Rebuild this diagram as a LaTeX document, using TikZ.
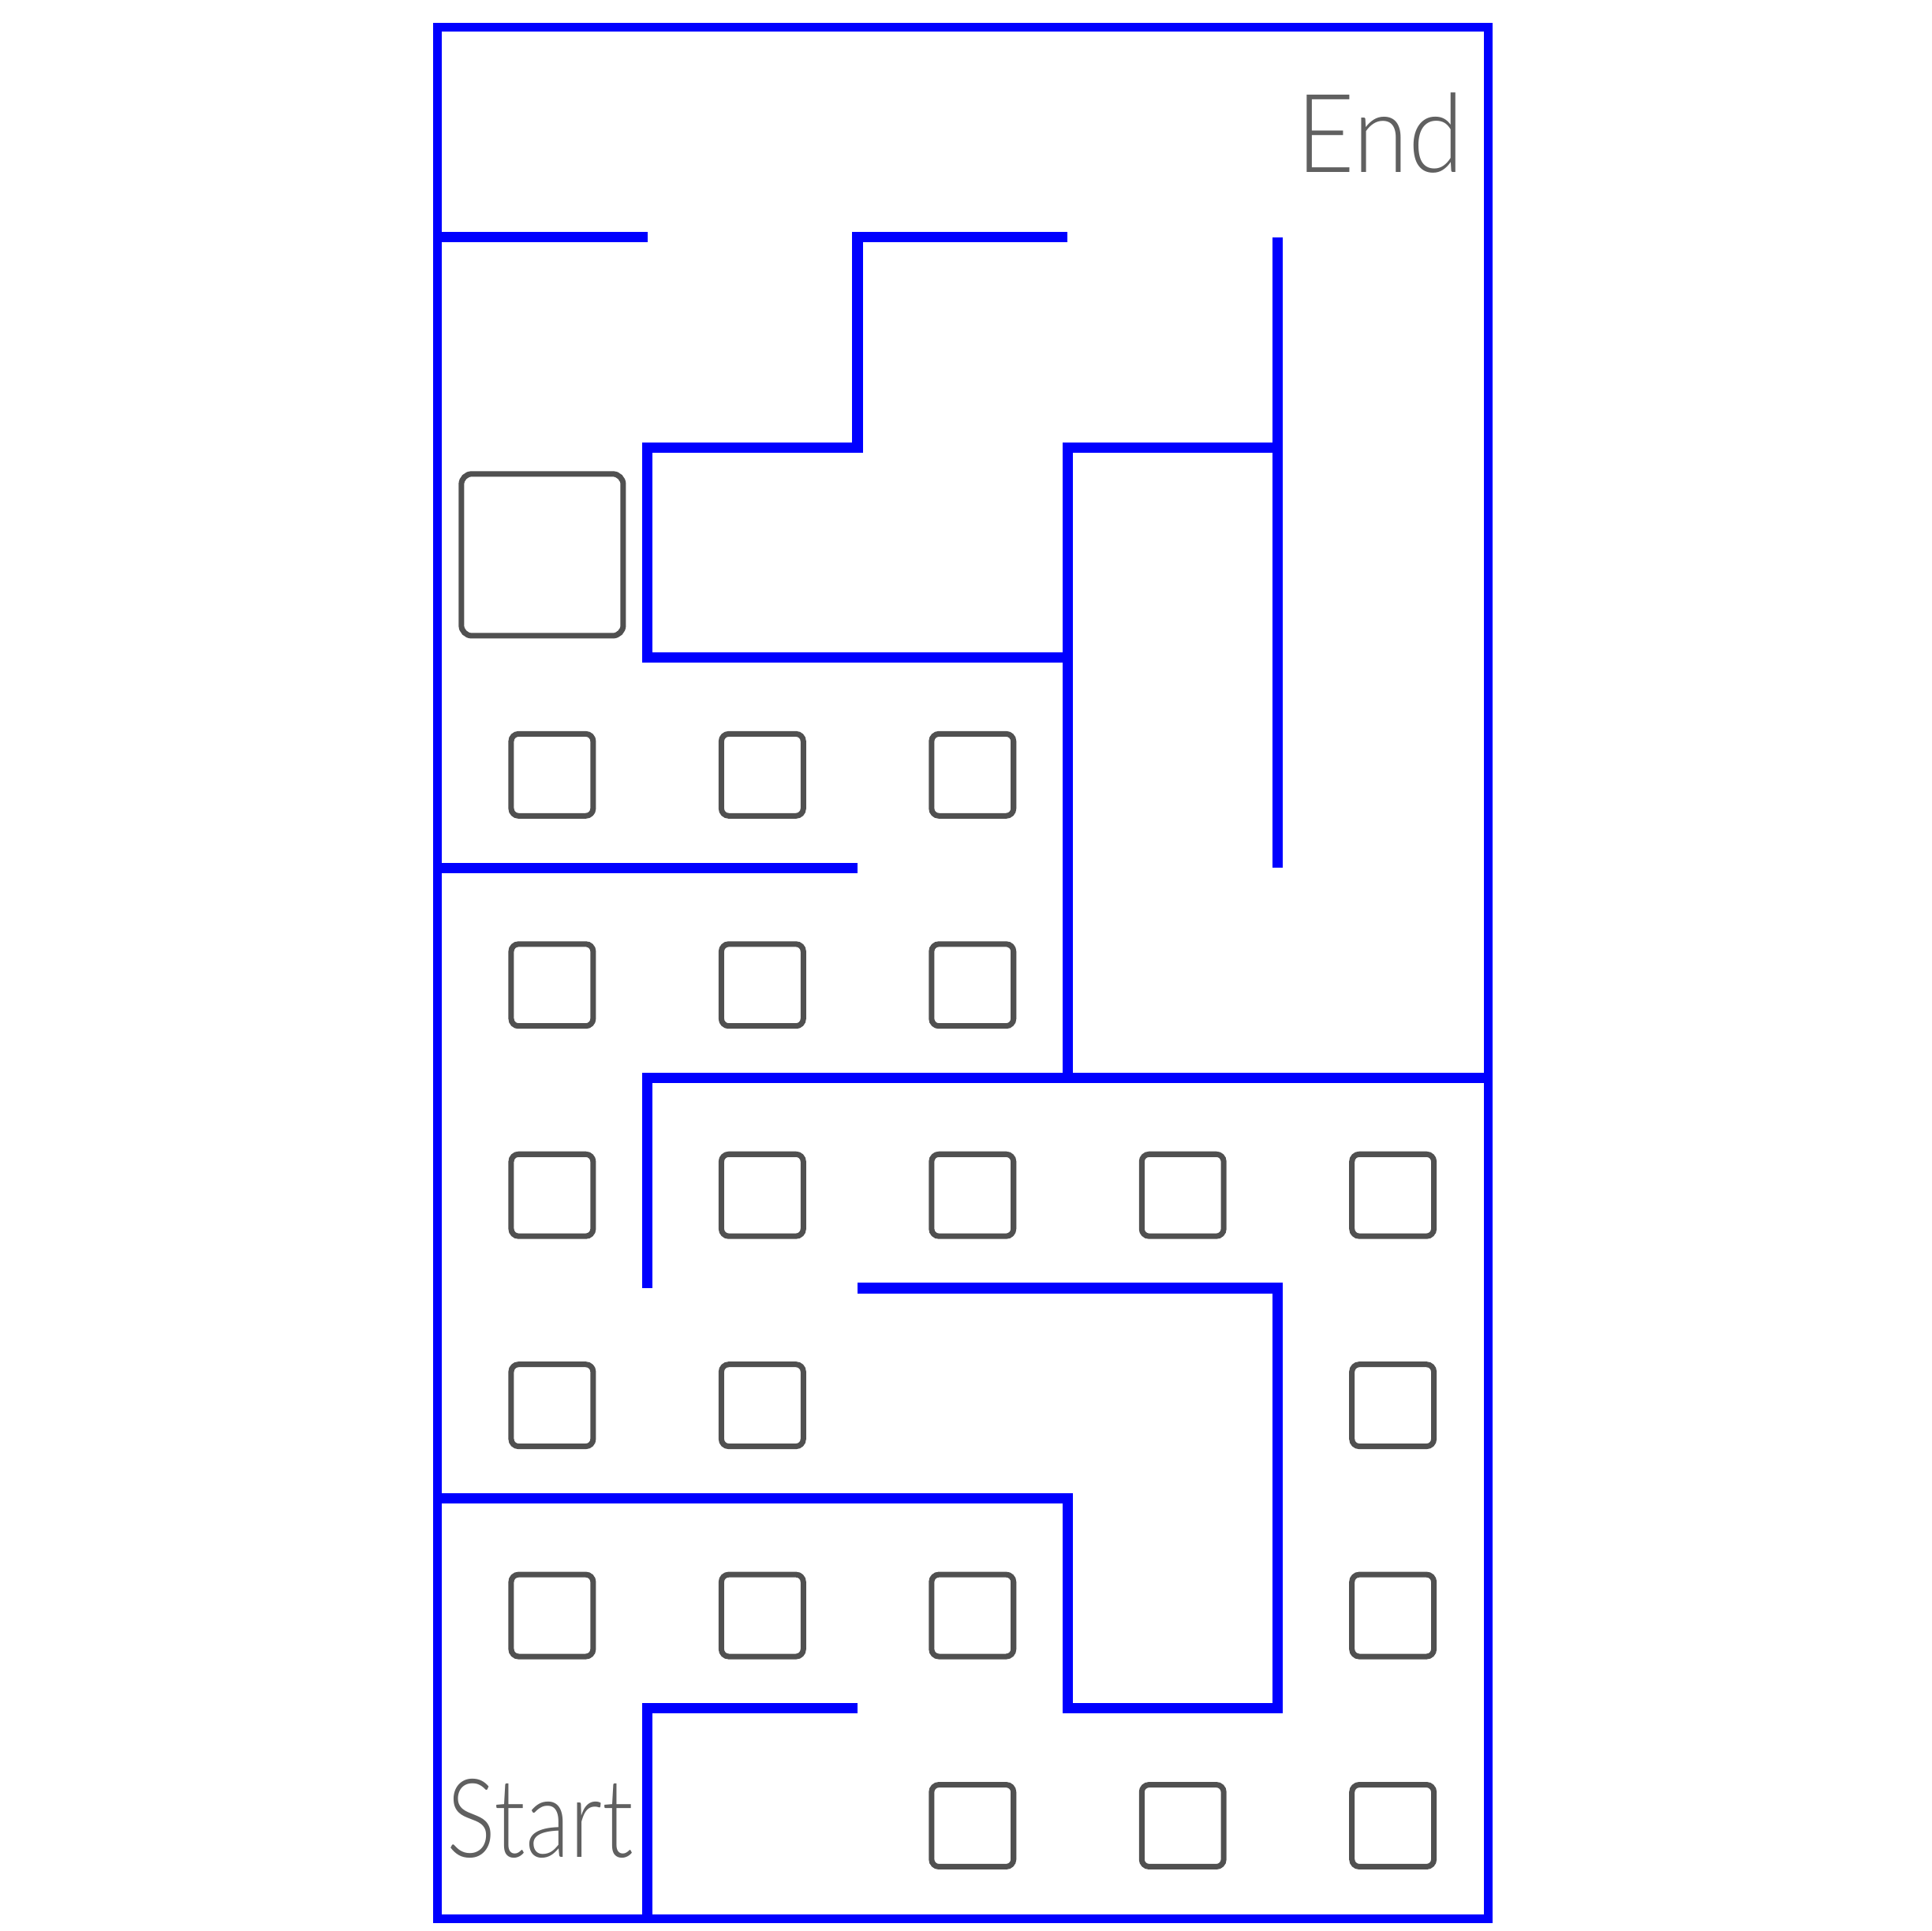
\documentclass[tikz,border=0pt]{standalone}
\usepackage{fontspec}
\newfontfamily\labelfont{Lato}[UprightFont={* Light}]
\definecolor{MazeBlue}{HTML}{0000FF}
\definecolor{BlockGray}{HTML}{505050}
\definecolor{LabelGray}{HTML}{606060}

\begin{document}
\begin{tikzpicture}[
  wall/.style={draw=MazeBlue, line width=1.4pt, line join=miter},
  border/.style={draw=MazeBlue, line width=1.2pt},
  block/.style={draw=BlockGray, line width=0.75pt, rounded corners=0.035cm, minimum size=0.39cm, inner sep=0pt},
  bigblock/.style={block, minimum size=0.77cm, rounded corners=0.05cm},
  label/.style={text=LabelGray, font=\labelfont\fontsize{14.8}{16}\selectfont, inner sep=0pt, xscale=0.92, transform shape}
]
\useasboundingbox (-2.080,-0.059) rectangle (7.108,9.129);
% outer frame
\draw[border] (0,0) rectangle (5,9);
% walls
\draw[wall] (0,8) -- (1,8);
\draw[wall] (3,8) -- (2,8) -- (2,7) -- (1,7) -- (1,6) -- (3,6);
\draw[wall] (4,8) -- (4,5);
\draw[wall] (4,7) -- (3,7) -- (3,4);
\draw[wall] (0,5) -- (2,5);
\draw[wall] (5,4) -- (1,4) -- (1,3);
\draw[wall] (2,3) -- (4,3) -- (4,1) -- (3,1) -- (3,2) -- (0,2);
\draw[wall] (2,1) -- (1,1) -- (1,0);
% blocks
\node[bigblock] (big) at (0.5,6.489) {};
\foreach \c/\r in {0/5,1/5,2/5, 0/4,1/4,2/4, 0/3,1/3,2/3,3/3,4/3, 0/2,1/2,4/2, 0/1,1/1,2/1,4/1, 2/0,3/0,4/0}
  \node[block] (b-\c-\r) at (\c+0.547,\r+0.442) {};
% labels
\node[label, anchor=base east] (end) at (4.892,8.309) {End};
\node[label, anchor=base west, xscale=0.91] (start) at (0.042,0.293) {Start};
\end{tikzpicture}
\end{document}
